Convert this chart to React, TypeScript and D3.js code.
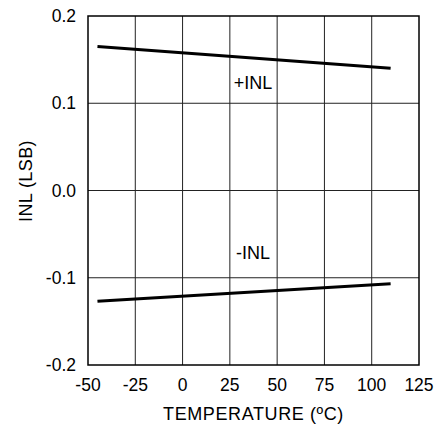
import React from "react";
import * as d3 from "d3";

// INL versus temperature
const temperatures = [-45, 110];
const inlPlus = [0.165, 0.14];
const inlMinus = [-0.127, -0.107];
const xTicks = [-50, -25, 0, 25, 50, 75, 100, 125];
const yTicks = [-0.2, -0.1, 0.0, 0.1, 0.2];

const W = 443;
const H = 429;
const m = { left: 88, right: 419, top: 16, bottom: 365 };
const font = "Arial, 'Liberation Sans', sans-serif";

export default function App() {
  const x = d3.scaleLinear().domain([-50, 125]).range([m.left, m.right]);
  const y = d3.scaleLinear().domain([-0.2, 0.2]).range([m.bottom, m.top]);
  const line = d3
    .line<number>()
    .x((_, i) => x(temperatures[i]))
    .y((d) => y(d));

  return (
    <svg
      width={W}
      height={H}
      style={{ position: "absolute", left: 0, top: 0, background: "#fff" }}
      fontFamily={font}
    >
      {xTicks.slice(1, -1).map((t) => (
        <line key={"gx" + t} x1={x(t)} x2={x(t)} y1={m.top} y2={m.bottom} stroke="#222" strokeWidth={1} />
      ))}
      {yTicks.slice(1, -1).map((t) => (
        <line key={"gy" + t} x1={m.left} x2={m.right} y1={y(t)} y2={y(t)} stroke="#222" strokeWidth={1} />
      ))}
      <rect
        x={m.left}
        y={m.top}
        width={m.right - m.left}
        height={m.bottom - m.top}
        fill="none"
        stroke="#000"
        strokeWidth={1.5}
      />
      <path d={line(inlPlus) ?? ""} fill="none" stroke="#000" strokeWidth={3} />
      <path d={line(inlMinus) ?? ""} fill="none" stroke="#000" strokeWidth={3} />

      <text x={253} y={89} fontSize={18} textAnchor="middle">+INL</text>
      <text x={253} y={259} fontSize={18} textAnchor="middle">-INL</text>

      {yTicks.map((t) => (
        <text key={"ty" + t} x={76} y={y(t)} dy="0.35em" fontSize={17.5} textAnchor="end">
          {d3.format(".1f")(t).replace("−", "-")}
        </text>
      ))}
      {xTicks.map((t) => (
        <text key={"tx" + t} x={x(t)} y={391} fontSize={17.5} textAnchor="middle">
          {t}
        </text>
      ))}
      <text
        x={(m.left + m.right) / 2}
        y={420}
        fontSize={18}
        letterSpacing={0.6}
        textAnchor="middle"
      >
        TEMPERATURE (ºC)
      </text>
      <text
        transform={`translate(32, 181) rotate(-90)`}
        fontSize={18}
        letterSpacing={0.4}
        textAnchor="middle"
      >
        INL (LSB)
      </text>
    </svg>
  );
}
